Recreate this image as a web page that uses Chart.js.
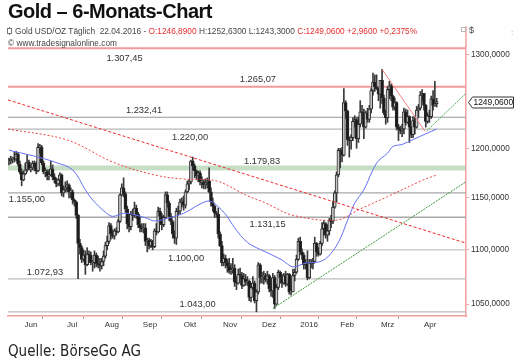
<!DOCTYPE html>
<html>
<head>
<meta charset="utf-8">
<script src="https://cdn.jsdelivr.net/npm/chart.js@4.4.1/dist/chart.umd.min.js"></script>
<style>
  html, body { margin: 0; padding: 0; background: #fff; }
  #wrap { position: relative; width: 525px; height: 362px; overflow: hidden; font-family: 'Liberation Sans', Arial, sans-serif; }
  #c { position: absolute; left: 0; top: 0; }
  .t { position: absolute; white-space: nowrap; }
</style>
</head>
<body>
<div id="wrap">
  <canvas id="c" width="525" height="362"></canvas>
  <div class="t" style="left:8px;top:1px;font-size:20px;line-height:20px;font-weight:bold;letter-spacing:-0.5px;color:#111">Gold – 6-Monats-Chart</div>
  <div class="t" style="left:9px;top:27px;width:1px;height:8px;background:#777"></div>
  <div class="t" style="left:8px;top:29px;width:3px;height:4px;border:0 solid #777;background:#fff;outline:1px solid #777"></div>
  <div class="t" style="left:15px;top:25.5px;font-size:8.3px;line-height:10px;color:#444">Gold USD/OZ Täglich&nbsp; 22.04.2016 - <span style="color:#e52d2d">O:1246,8900</span> H:1252,6300 L:1243,3000 <span style="color:#e52d2d">C:1249,0600 +2,9600 +0,2375%</span></div>
  <div class="t" style="left:8px;top:37.5px;font-size:8.3px;line-height:10px;color:#444">© www.tradesignalonline.com</div>
  <div class="t" style="left:461px;top:27px;width:3px;height:3px;border:1px solid #bbb"></div>
  <div class="t" style="left:469px;top:25px;font-size:9px;line-height:10px;color:#444">$</div>
  <div class="t" style="left:511px;top:28px;font-size:8px;line-height:10px;color:#999">:</div>
  <div class="t" style="left:8px;top:344px;font-size:15px;line-height:15px;color:#222;font-family:'Liberation Sans Narrow','DejaVu Sans Condensed',sans-serif">Quelle: BörseGo AG</div>
</div>
<script>
// Daily candles, 27.05.2015 .. 22.04.2016 (one entry per trading day)
const openP = [
  1186,1187,1189,
  1190,1189,1194,1184,1176, 1168,1174,1178,1186,1179, 1180,1185,1181,1177,1201, 1201,1185,1176,1176,1172, 1173,1179,
  1171,1168,1164, 1168,1173,1155,1158,1160, 1163,1156,1156,1148,1146, 1133,1106,1102,1091,1095, 1086,1096,1095,1088,1088,
  1095,1087,1086,1085,1089, 1094,1104,1108,1123,1115, 1113,1118,1117,1127,1153, 1160,1154,1139,1125,1122, 1134,
  1133,1140,1134,1124, 1121,1120,1121,1108,1109, 1104,1108,1103,1118,1117, 1137,1132,1124,1131,1153, 1145,1132,1127,
  1115,1111, 1137,1137,1146,1147,1143, 1156,1164,1166,1187,1182, 1177,1172,1175,1166,1166, 1163,1165,1167,1156,1146,
  1142,1135,1134,1115,1104, 1088,1092,1088,1085,1080, 1081,1083,1070,1069,1077, 1076,1067,1073,1070,1071, 1056,
  1065,1069,1053,1061, 1086,1074,1075,1076,1072, 1076,1064,1062,1074,1050, 1065,1079,1074,1069, 1076,1068,1077,1061,
  1061,1076,1079,1091,1108, 1098,1095,1086,1088,1074, 1088,1087,1089,1106,1098, 1096,1106,1120,1125,1114,
  1118,1128,1127,1141,1155, 1173,1198,1197,1193,1248, 1239,1209,1208,1211,1228, 1230,1210,1225,1238,1237, 1222,
  1237,1230,1241,1261, 1270,1265,1263,1257,1272, 1253,1237,1232,1262,1266, 1255,1243,1248,1222,1220, 1218,1220,1238,1227,
  1233, 1222,1214,1229,1222,1240, 1242,1256,1258,1245,1228, 1234,1233,1252,1245,1246.89
];
const highP = [
  1190,1192,1191,
  1196,1197,1196,1187,1179, 1177,1185,1193,1188,1183, 1187,1187,1186,1205,1204, 1203,1187,1180,1178,1178, 1187,1183,
  1174,1170,1169, 1175,1174,1162,1166,1167, 1164,1160,1158,1149,1147, 1134,1110,1104,1100,1099, 1102,1099,1098,1090,1099,
  1097,1094,1092,1092,1099, 1107,1113,1126,1125,1119, 1120,1121,1129,1154,1164, 1170,1156,1142,1130,1137, 1139,
  1146,1143,1136,1131, 1125,1125,1125,1111,1111, 1110,1109,1120,1125,1141, 1140,1135,1133,1156,1156, 1147,1135,1128,
  1118,1140, 1142,1149,1150,1152,1158, 1167,1168,1188,1191,1184, 1178,1177,1177,1171,1168, 1169,1170,1180,1160,1150,
  1143,1137,1140,1117,1108, 1096,1095,1091,1092,1087, 1092,1086,1075,1082,1083, 1079,1078,1077,1075,1072, 1068,
  1075,1071,1063,1088, 1087,1079,1080,1078,1080, 1077,1069,1078,1076,1068, 1081,1080,1077,1078, 1080,1078,1078,1067,
  1082,1082,1095,1111,1112, 1101,1097,1091,1099,1091, 1091,1092,1112,1107,1102, 1108,1126,1128,1126,1124,
  1130,1133,1147,1157,1176, 1200,1200,1201,1263,1250, 1240,1212,1214,1232,1234, 1232,1233,1250,1245,1241, 1239,
  1242,1245,1263,1280, 1278,1278,1264,1272,1284, 1256,1240,1265,1271,1268, 1256,1253,1249,1225,1223, 1225,1242,1241,1240,
  1234, 1223,1233,1232,1244,1246, 1260,1262,1258,1246,1237, 1240,1255,1261,1271,1252.63
];
const lowP = [
  1183,1184,1185,
  1186,1187,1182,1174,1162, 1167,1173,1176,1178,1176, 1178,1177,1174,1176,1195, 1183,1174,1171,1168,1168, 1172,1168,
  1165,1161,1162, 1162,1152,1151,1156,1156, 1150,1150,1144,1142,1130, 1073,1096,1088,1089,1077, 1085,1091,1086,1080,1083,
  1084,1083,1080,1082,1085, 1092,1100,1106,1110,1111, 1110,1114,1116,1126,1152, 1151,1136,1120,1117,1119, 1128,
  1131,1130,1121,1117, 1117,1116,1104,1098,1101, 1102,1100,1102,1114,1116, 1129,1119,1122,1130,1141, 1128,1124,1111,
  1106,1105, 1133,1134,1141,1138,1140, 1155,1158,1164,1178,1170, 1168,1166,1163,1160,1159, 1159,1160,1155,1142,1137,
  1131,1131,1111,1103,1085, 1085,1083,1079,1078,1077, 1078,1066,1063,1068,1073, 1064,1066,1067,1067,1053, 1052,
  1063,1051,1043,1059, 1069,1069,1068,1070,1068, 1061,1057,1056,1046,1049, 1063,1069,1065,1068, 1066,1067,1059,1058,
  1061,1071,1078,1090,1096, 1091,1082,1082,1072,1073, 1083,1082,1088,1094,1094, 1095,1104,1114,1111,1108,
  1114,1121,1125,1140,1146, 1171,1180,1186,1192,1231, 1203,1191,1199,1208,1222, 1200,1206,1222,1230,1210, 1221,
  1227,1227,1237,1256, 1260,1262,1250,1242,1247, 1235,1225,1227,1252,1250, 1240,1240,1219,1208,1215, 1212,1215,1224,1226,
  1206, 1211,1211,1215,1221,1232, 1240,1250,1240,1222,1226, 1227,1231,1240,1244,1243.30
];
const closeP = [
  1187,1189,1190,
  1189,1194,1184,1176,1168, 1174,1178,1186,1179,1180, 1185,1181,1177,1201,1201, 1185,1176,1176,1172,1173, 1179,1171,
  1168,1164,1168, 1173,1155,1158,1160,1163, 1156,1156,1148,1146,1133, 1106,1102,1091,1095,1086, 1096,1095,1088,1088,1095,
  1087,1086,1085,1089,1094, 1104,1108,1123,1115,1113, 1118,1117,1127,1153,1160, 1154,1139,1125,1122,1134, 1133,
  1140,1134,1124,1121, 1120,1121,1108,1109,1104, 1108,1103,1118,1117,1137, 1132,1124,1131,1153,1145, 1132,1127,1115,
  1111,1137, 1137,1146,1147,1143,1156, 1164,1166,1187,1182,1177, 1172,1175,1166,1166,1163, 1165,1167,1156,1146,1142,
  1135,1134,1115,1104,1088, 1092,1088,1085,1080,1081, 1083,1070,1069,1077,1076, 1067,1073,1070,1071,1056, 1065,
  1069,1053,1061,1086, 1074,1075,1076,1072,1076, 1064,1062,1074,1050,1065, 1079,1074,1069,1076, 1068,1077,1061,1061,
  1076,1079,1091,1108,1098, 1095,1086,1088,1074,1088, 1087,1089,1106,1098,1096, 1106,1120,1125,1114,1118,
  1128,1127,1141,1155,1173, 1198,1197,1193,1248,1239, 1209,1208,1211,1228,1230, 1210,1225,1238,1237,1222, 1237,
  1230,1241,1261,1270, 1265,1263,1257,1272,1253, 1237,1232,1262,1266,1255, 1243,1248,1222,1220,1218, 1220,1238,1227,1233,
  1222, 1214,1229,1222,1240,1242, 1256,1258,1245,1228,1234, 1233,1252,1245,1246.10,1249.06
];

// moving averages (day index, value)
const maBlueIdx = [0,14,25,35,42,46,53,57,63,68,76,80,87,96,105,110,114,119,124,131,141,150,156,163,170,175,181,186,190,195,202,208,211,216,222,229,235];
const maBlueVal = [1198,1192,1186,1178,1158,1148,1136,1132,1135,1134,1130,1127.5,1130,1135,1144,1147,1143,1134,1121,1107,1098,1090.5,1084,1087.6,1088.5,1093,1107,1128,1145,1158,1185,1195,1202,1204,1209,1215,1220];
const maRedIdx = [-0.5,32,57,80,96,114,130,141,155.5,180,193,208,227.5,235];
const maRedVal = [1220,1208.6,1186,1172.9,1168.8,1166.9,1153,1145,1133.3,1128.4,1139.2,1151.3,1167.8,1172.9];

// trend lines (day index, value)
const trendDown = [[-0.5, 1250.8], [251.1, 1106.3]];
const trendPeak = [[205, 1284], [228.6, 1217.6]];
const trendUp = [[145, 1046], [251.1, 1166.1]];
const trendUpShort = [[229.5, 1218], [251.1, 1258]];

// horizontal levels
const levelValues = [1307.45, 1265.07, 1232.41, 1220.00, 1179.83, 1155.00, 1131.15, 1100.00, 1072.93, 1043.00];
const levelLabels = ['1.307,45', '1.265,07', '1.232,41', '1.220,00', '1.179,83', '1.155,00', '1.131,15', '1.100,00', '1.072,93', '1.043,00'];

// axes
const yTicks = [1050, 1100, 1150, 1200, 1300];
const monthNames = ['Jun', 'Jul', 'Aug', 'Sep', 'Okt', 'Nov', 'Dez', '2016', 'Feb', 'Mrz', 'Apr'];
const monthStart = [3, 25, 48, 69, 91, 113, 134, 156, 176, 197, 220];

// styling of levels (not data)
const levelColor = ['#f29a9a', '#f29a9a', '#999', '#b8b8b8', 'rgba(150,195,150,0.55)', '#a8a8a8', '#a8a8a8', '#c4c4c4', '#bdbdbd', '#bdbdbd'];
const levelWidth = [2, 2, 1.2, 1.2, 5, 1.3, 1.3, 1.2, 1.2, 1.2];
const levelFrom = [null, null, null, null, null, null, null, 76, null, null];
const labelAtIdx = [63.5, 136.8, 74.2, 99.5, 139.1, 9.9, 142.1, 97.3, 19.8, 103.6];
const labelDy = [10.5, -7.5, -6.5, 8, -6.5, 7, 7.3, 9, -6, -7];
const monthLabelAt = [12.1, 34.7, 56.6, 77.5, 99.5, 121.5, 142.9, 164.9, 185.8, 208, 231.4];
const monthEdges = monthStart.map(i => i - 0.5);

const wickData = highP.map((h, i) => ({ x: i, y: [lowP[i], h] }));
const bodyData = openP.map((o, i) => ({ x: i, y: [Math.min(o, closeP[i]), Math.max(o, closeP[i])] }));
const toPts = (xs, ys) => xs.map((x, i) => ({ x: x, y: ys[i] }));
const pairPts = arr => arr.map(p => ({ x: p[0], y: p[1] }));
const fmt4 = v => Number(v).toFixed(4).replace('.', ',');

Chart.defaults.font.family = "'Liberation Sans', Arial, sans-serif";
Chart.defaults.color = '#333';

const levelPlugin = {
  id: 'levels',
  beforeDatasetsDraw(chart) {
    const { ctx, chartArea: a, scales: { x, y } } = chart;
    ctx.save();
    ctx.beginPath();
    ctx.rect(a.left, a.top - 2, a.right - a.left, a.bottom - a.top + 2);
    ctx.clip();
    levelValues.forEach((v, i) => {
      const py = y.getPixelForValue(v);
      const x0 = levelFrom[i] == null ? a.left : x.getPixelForValue(levelFrom[i]);
      ctx.strokeStyle = levelColor[i];
      ctx.lineWidth = levelWidth[i];
      ctx.beginPath();
      ctx.moveTo(x0, py);
      ctx.lineTo(a.right, py);
      ctx.stroke();
    });
    ctx.fillStyle = '#333';
    ctx.font = "9.3px 'Liberation Sans', Arial, sans-serif";
    ctx.textAlign = 'center';
    ctx.textBaseline = 'middle';
    levelValues.forEach((v, i) => {
      ctx.fillText(levelLabels[i], x.getPixelForValue(labelAtIdx[i]), y.getPixelForValue(v) + labelDy[i]);
    });
    ctx.restore();
  },
  afterDraw(chart) {
    const { ctx, chartArea: a, scales: { y } } = chart;
    ctx.save();
    // axis line reaching up into the header
    ctx.strokeStyle = '#f2a0a0';
    ctx.lineWidth = 1.5;
    ctx.beginPath();
    ctx.moveTo(a.right, 26);
    ctx.lineTo(a.right, a.top);
    ctx.stroke();
    // last price marker
    const last = closeP[closeP.length - 1];
    const py = Math.round(y.getPixelForValue(last)) + 0.5;
    const x0 = a.right + 2.5;
    ctx.beginPath();
    ctx.moveTo(x0, py);
    ctx.lineTo(x0 + 4, py - 5.5);
    ctx.lineTo(513.5, py - 5.5);
    ctx.lineTo(513.5, py + 5.5);
    ctx.lineTo(x0 + 4, py + 5.5);
    ctx.closePath();
    ctx.fillStyle = '#fff';
    ctx.fill();
    ctx.strokeStyle = '#333';
    ctx.lineWidth = 1;
    ctx.stroke();
    ctx.fillStyle = '#111';
    ctx.font = "8.4px 'Liberation Sans', Arial, sans-serif";
    ctx.textBaseline = 'middle';
    ctx.fillText(fmt4(last), x0 + 5, py + 0.5);
    ctx.restore();
  }
};

new Chart(document.getElementById('c'), {
  type: 'bar',
  data: {
    datasets: [
      {
        label: 'Range',
        data: wickData,
        backgroundColor: '#3a3a3a',
        barThickness: 1,
        grouped: false,
        order: 6
      },
      {
        label: 'Body',
        data: bodyData,
        backgroundColor: c => closeP[c.dataIndex] >= openP[c.dataIndex] ? '#c8c8c8' : '#1a1a1a',
        borderColor: '#2a2a2a',
        borderWidth: 1,
        borderSkipped: false,
        barThickness: 3,
        minBarLength: 1,
        grouped: false,
        order: 5
      },
      {
        type: 'line', label: 'GD kurz', data: toPts(maBlueIdx, maBlueVal),
        borderColor: '#6470f2', borderWidth: 1, pointRadius: 0, tension: 0.35, order: 3
      },
      {
        type: 'line', label: 'GD lang', data: toPts(maRedIdx, maRedVal),
        borderColor: '#f04040', borderWidth: 1, borderDash: [2, 2], pointRadius: 0, tension: 0.35, order: 3
      },
      {
        type: 'line', label: 'Trend abw.', data: pairPts(trendDown),
        borderColor: '#ee2a2a', borderWidth: 1, borderDash: [3, 2], pointRadius: 0, order: 2
      },
      {
        type: 'line', label: 'Trend Spitze', data: pairPts(trendPeak),
        borderColor: '#f08080', borderWidth: 1, pointRadius: 0, order: 2
      },
      {
        type: 'line', label: 'Trend auf', data: pairPts(trendUp),
        borderColor: '#3f9a3f', borderWidth: 1, borderDash: [2, 1], pointRadius: 0, order: 2
      },
      {
        type: 'line', label: 'Trend auf kurz', data: pairPts(trendUpShort),
        borderColor: '#52a852', borderWidth: 1, borderDash: [2, 1], pointRadius: 0, order: 2
      }
    ]
  },
  options: {
    responsive: false,
    animation: false,
    events: [],
    layout: { padding: { left: 8, top: 47, right: 0, bottom: 26 } },
    plugins: { legend: { display: false }, tooltip: { enabled: false } },
    scales: {
      x: {
        type: 'linear',
        min: -0.5,
        max: 251.1,
        offset: false,
        afterBuildTicks: s => {
          s.ticks = monthEdges.concat(monthLabelAt).sort((a, b) => a - b).map(v => ({ value: v }));
        },
        afterFit: s => { s.height = 20; },
        ticks: {
          autoSkip: false,
          maxRotation: 0,
          padding: 1,
          color: '#333',
          font: { size: 8 },
          callback: v => {
            const k = monthLabelAt.indexOf(v);
            return k >= 0 ? monthNames[k] : '';
          }
        },
        grid: {
          drawOnChartArea: false,
          tickLength: 3,
          color: c => (c.tick && monthEdges.includes(c.tick.value)) ? '#999' : 'rgba(0,0,0,0)'
        },
        border: { color: '#f2a0a0', width: 1.5 }
      },
      y: {
        type: 'logarithmic',
        position: 'right',
        min: 1039.3,
        max: 1308.9,
        afterBuildTicks: s => { s.ticks = yTicks.map(v => ({ value: v })); },
        afterFit: s => { s.width = 59; },
        ticks: {
          padding: 2,
          color: '#333',
          font: { size: 8.2 },
          callback: v => fmt4(v)
        },
        grid: { drawOnChartArea: false, tickLength: 3, color: '#f2a0a0' },
        border: { color: '#f2a0a0', width: 1.5 }
      }
    }
  },
  plugins: [levelPlugin]
});
</script>
</body>
</html>
